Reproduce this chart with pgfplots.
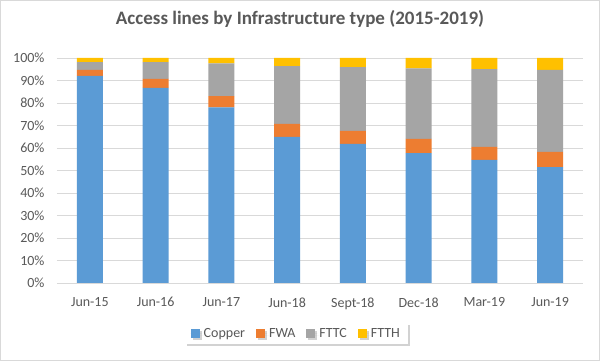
\documentclass[border=0pt]{standalone}
\usepackage{fontspec}
\setmainfont{Carlito}
\usepackage{pgfplots}
\pgfplotsset{compat=1.18}
\usetikzlibrary{shadows}
\definecolor{cCopper}{HTML}{5B9BD5}
\definecolor{cFWA}{HTML}{ED7D31}
\definecolor{cFTTC}{HTML}{A5A5A5}
\definecolor{cFTTH}{HTML}{FFC000}
\definecolor{txt}{HTML}{595959}
\definecolor{gridc}{HTML}{D9D9D9}
\begin{document}
\begin{tikzpicture}[x=1pt,y=1pt]
\useasboundingbox (0,0) rectangle (600,361);
\fill[white] (0,0) rectangle (600,361);
\draw[gridc, line width=0.8pt] (0.5,0.5) rectangle (599.5,360.5);
\node[font=\fontsize{19}{22}\selectfont\bfseries, text=txt] at (300,342) {Access lines by Infrastructure type (2015-2019)};
\begin{axis}[
  at={(57pt,78pt)}, anchor=south west,
  scale only axis, width=526pt, height=225pt,
  ybar stacked, bar width=26pt,
  xmin=-0.5, xmax=7.5, ymin=0, ymax=100,
  xtick={0,...,7},
  xticklabels={Jun-15,Jun-16,Jun-17,Jun-18,Sept-18,Dec-18,Mar-19,Jun-19},
  ytick={0,10,...,100},
  yticklabels={0\%,10\%,20\%,30\%,40\%,50\%,60\%,70\%,80\%,90\%,100\%},
  ymajorgrids, grid style={gridc, line width=0.8pt},
  axis line style={draw=none},
  major tick length=0pt,
  tick label style={font=\fontsize{14}{16}\selectfont, text=txt},
  yticklabel style={xshift=-9pt},
  xticklabel style={yshift=-11pt},
  legend style={at={(0.455,-0.178)}, anchor=north, fill=white, draw=none,
    drop shadow={opacity=0.35, shadow xshift=2pt, shadow yshift=-2pt},
    font=\fontsize{14}{16}\selectfont, text=txt, inner xsep=6pt, inner ysep=3pt},
  legend columns=4,
  legend cell align=left,
  /tikz/every even column/.append style={column sep=9pt},
  legend image code/.code={\path (0pt,0pt) -- (11pt,0pt);\fill[#1] (0pt,-4.5pt) rectangle (9pt,4.5pt);},
]
\addplot[fill=cCopper, draw=none] coordinates {(0,92.0) (1,86.7) (2,78.1) (3,64.9) (4,61.8) (5,57.7) (6,54.7) (7,51.5)};
\addplot[fill=cFWA, draw=none] coordinates {(0,2.7) (1,4.0) (2,5.0) (3,5.8) (4,5.8) (5,6.4) (6,5.8) (7,6.8)};
\addplot[fill=cFTTC, draw=none] coordinates {(0,3.5) (1,7.5) (2,14.5) (3,25.7) (4,28.3) (5,31.3) (6,34.5) (7,36.4)};
\addplot[fill=cFTTH, draw=none] coordinates {(0,1.8) (1,1.8) (2,2.4) (3,3.6) (4,4.1) (5,4.6) (6,5.0) (7,5.3)};
\legend{Copper,FWA,FTTC,FTTH}
\end{axis}
\end{tikzpicture}
\end{document}
